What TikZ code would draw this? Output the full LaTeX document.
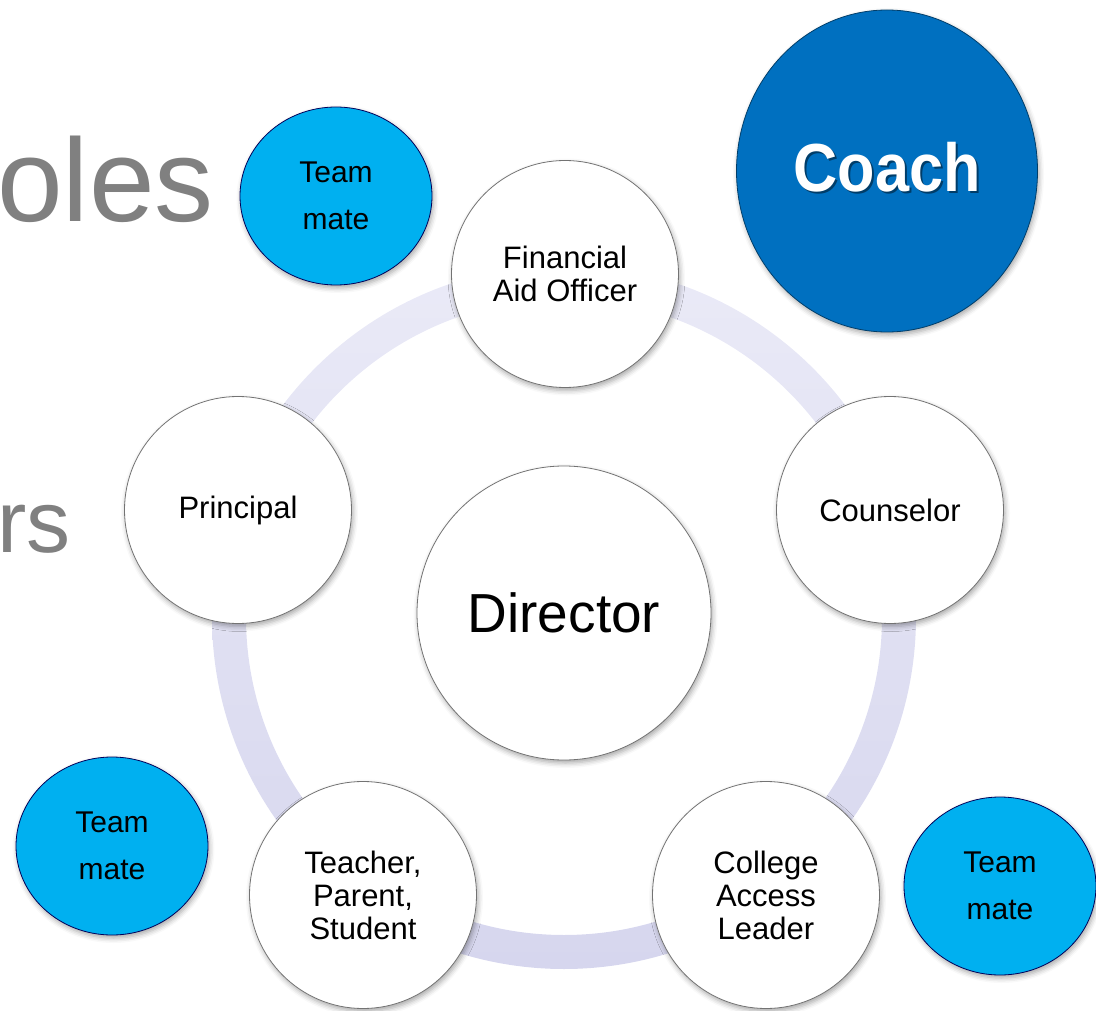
\documentclass[tikz,border=0pt]{standalone}
\usepackage{fontspec}
\setmainfont{Liberation Sans}
\usetikzlibrary{shapes.geometric,shadows.blur}
\definecolor{ringlight}{RGB}{234,234,247}
\definecolor{ringdark}{RGB}{214,214,238}
\definecolor{matefill}{RGB}{0,176,240}
\definecolor{coachfill}{RGB}{0,112,192}
\definecolor{titlegray}{RGB}{128,128,128}
\begin{document}
\begin{tikzpicture}[x=1pt,y=-1pt,
  softshadow/.style={blur shadow={shadow xshift=1.5pt,shadow yshift=-3pt,shadow blur radius=5pt,shadow opacity=35}},
  role/.style={circle,draw=black!55,line width=0.8pt,fill=white,minimum size=227pt,inner sep=0pt,align=center,font=\fontsize{31}{33}\selectfont,softshadow},
  hub/.style={role,minimum size=294pt,font=\fontsize{55}{60}\selectfont},
  mate/.style={ellipse,draw=black!65!blue,line width=0.8pt,fill=matefill,minimum width=192pt,minimum height=178pt,inner sep=0pt,align=center,font=\fontsize{30}{47}\selectfont,softshadow},
  coach/.style={ellipse,draw=coachfill!55!black,line width=0.8pt,fill=coachfill,minimum width=301pt,minimum height=322pt,inner sep=0pt,softshadow},
  title/.style={text=titlegray,inner sep=0pt}
]
\useasboundingbox (0,0) rectangle (1096,1011);
\clip (0,0) rectangle (1096,1011);

% partially visible slide titles
\node[title,anchor=base east,font=\fontsize{118}{118}\selectfont] (roles) at (214,222) {oles};
\node[title,anchor=base west,font=\fontsize{88}{88}\selectfont] (others) at (-3,552) {rs};

% ring linking the roles
\shade[top color=ringlight,bottom color=ringdark,even odd rule]
  (564,617) circle (352pt) (564,617) circle (318pt);

% centre and surrounding roles
\node[hub]  (director)  at (564,613) {Director};
\node[role] (aid)       at (565,274) {Financial\\Aid Officer};
\node[role] (counselor) at (890,510) {Counselor};
\node[role] (principal) at (238,510) {Principal};
\node[role] (family)    at (363,895) {Teacher,\\Parent,\\Student};
\node[role] (access)    at (766,895) {College\\Access\\Leader};

% team mates
\node[mate] (mateA) at (336,196)  {Team\\mate};
\node[mate] (mateB) at (112,846)  {Team\\mate};
\node[mate] (mateC) at (1000,886) {Team\\mate};

% coach with shadowed label
\node[coach] (coach) at (887,171) {};
\node[anchor=base,inner sep=0pt,text=black,opacity=0.45,font=\fontsize{68}{68}\bfseries] (coachshade) at (889,194) {\scalebox{0.9}[1]{Coach}};
\node[anchor=base,inner sep=0pt,text=white,font=\fontsize{68}{68}\bfseries] (coachlabel) at (887,192) {\scalebox{0.9}[1]{Coach}};
\end{tikzpicture}
\end{document}
